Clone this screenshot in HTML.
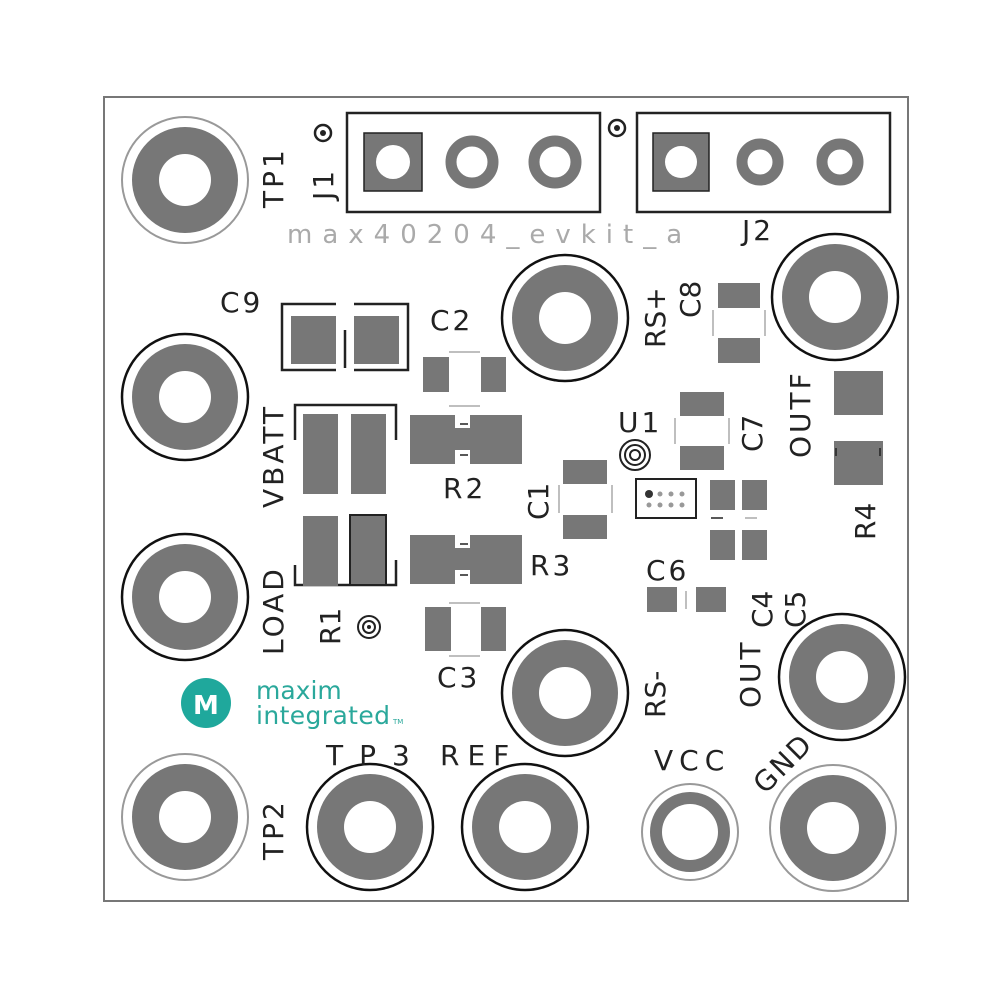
<!DOCTYPE html>
<html><head><meta charset="utf-8"><style>
html,body{margin:0;padding:0;background:#fff}
svg{display:block}
text{font-family:"DejaVu Sans","Liberation Sans",sans-serif;fill:#222}
</style></head><body>
<svg width="1000" height="1000" viewBox="0 0 1000 1000" xmlns="http://www.w3.org/2000/svg">
<rect width="1000" height="1000" fill="#fff"/>
<rect x="104" y="97" width="804" height="804" fill="none" stroke="#777" stroke-width="2"/>
<g>
<circle cx="185" cy="180" r="53" fill="#777"/><circle cx="185" cy="180" r="26" fill="#fff"/><circle cx="185" cy="180" r="63" fill="none" stroke="#999" stroke-width="2"/>
<circle cx="185" cy="397" r="53" fill="#777"/><circle cx="185" cy="397" r="26" fill="#fff"/><circle cx="185" cy="397" r="63" fill="none" stroke="#111" stroke-width="2.5"/>
<circle cx="185" cy="597" r="53" fill="#777"/><circle cx="185" cy="597" r="26" fill="#fff"/><circle cx="185" cy="597" r="63" fill="none" stroke="#111" stroke-width="2.5"/>
<circle cx="185" cy="817" r="53" fill="#777"/><circle cx="185" cy="817" r="26" fill="#fff"/><circle cx="185" cy="817" r="63" fill="none" stroke="#999" stroke-width="2"/>
<circle cx="370" cy="827" r="53" fill="#777"/><circle cx="370" cy="827" r="26" fill="#fff"/><circle cx="370" cy="827" r="63" fill="none" stroke="#111" stroke-width="2.5"/>
<circle cx="525" cy="827" r="53" fill="#777"/><circle cx="525" cy="827" r="26" fill="#fff"/><circle cx="525" cy="827" r="63" fill="none" stroke="#111" stroke-width="2.5"/>
<circle cx="833" cy="828" r="53" fill="#777"/><circle cx="833" cy="828" r="26" fill="#fff"/><circle cx="833" cy="828" r="63" fill="none" stroke="#999" stroke-width="2"/>
<circle cx="565" cy="318" r="53" fill="#777"/><circle cx="565" cy="318" r="26" fill="#fff"/><circle cx="565" cy="318" r="63" fill="none" stroke="#111" stroke-width="2.5"/>
<circle cx="565" cy="693" r="53" fill="#777"/><circle cx="565" cy="693" r="26" fill="#fff"/><circle cx="565" cy="693" r="63" fill="none" stroke="#111" stroke-width="2.5"/>
<circle cx="835" cy="297" r="53" fill="#777"/><circle cx="835" cy="297" r="26" fill="#fff"/><circle cx="835" cy="297" r="63" fill="none" stroke="#111" stroke-width="2.5"/>
<circle cx="842" cy="677" r="53" fill="#777"/><circle cx="842" cy="677" r="26" fill="#fff"/><circle cx="842" cy="677" r="63" fill="none" stroke="#111" stroke-width="2.5"/>
<circle cx="690" cy="832" r="40" fill="#777"/><circle cx="690" cy="832" r="28" fill="#fff"/><circle cx="690" cy="832" r="48" fill="none" stroke="#999" stroke-width="2"/>
</g>
<g fill="none" stroke="#222" stroke-width="2.5">
<rect x="347" y="113" width="253" height="99"/>
<rect x="637" y="113" width="253" height="99"/>
</g>
<rect x="364" y="133" width="58" height="58" fill="#777" stroke="#222" stroke-width="1.5"/>
<circle cx="393" cy="162" r="17" fill="#fff"/>
<rect x="653" y="133" width="56" height="58" fill="#777" stroke="#222" stroke-width="1.5"/>
<circle cx="681" cy="162" r="16" fill="#fff"/>
<g fill="none" stroke="#777" stroke-width="11">
<circle cx="472" cy="162" r="21"/><circle cx="555" cy="162" r="21"/>
<circle cx="760" cy="162" r="18"/><circle cx="840" cy="162" r="18"/>
</g>
<g fill="none" stroke="#222" stroke-width="2.5"><circle cx="323" cy="133" r="8"/><circle cx="617" cy="128" r="8"/></g>
<circle cx="323" cy="133" r="3" fill="#222"/><circle cx="617" cy="128" r="3" fill="#222"/>
<g fill="none" stroke="#222" stroke-width="2.5">
<path d="M336 304H282V370H336M354 304H408V370H354"/>
<path d="M345 330V368"/>
<path d="M295 440V405H396V440M295 565V585H396V560"/>
</g>
<g fill="#777">
<rect x="291" y="316" width="45" height="48"/><rect x="354" y="316" width="45" height="48"/>
<rect x="303" y="414" width="35" height="80"/><rect x="351" y="414" width="35" height="80"/>
<rect x="303" y="516" width="35" height="70"/>
<rect x="423" y="357" width="26" height="35"/><rect x="481" y="357" width="25" height="35"/>
<rect x="410" y="415" width="45" height="49"/><rect x="470" y="415" width="52" height="49"/><rect x="450" y="428" width="25" height="22"/>
<rect x="410" y="535" width="45" height="49"/><rect x="470" y="535" width="52" height="49"/><rect x="450" y="548" width="25" height="22"/>
<rect x="425" y="607" width="26" height="44"/><rect x="481" y="607" width="25" height="44"/>
<rect x="563" y="460" width="44" height="24"/><rect x="563" y="515" width="44" height="24"/>
<rect x="680" y="392" width="44" height="24"/><rect x="680" y="446" width="44" height="24"/>
<rect x="718" y="283" width="42" height="25"/><rect x="718" y="338" width="42" height="25"/>
<rect x="834" y="371" width="49" height="44"/><rect x="834" y="441" width="49" height="44"/>
<rect x="710" y="480" width="25" height="30"/><rect x="742" y="480" width="25" height="30"/>
<rect x="710" y="530" width="25" height="30"/><rect x="742" y="530" width="25" height="30"/>
<rect x="647" y="587" width="30" height="25"/><rect x="696" y="587" width="30" height="25"/>
</g>
<rect x="350" y="515" width="36" height="70" fill="#777" stroke="#222" stroke-width="2"/>
<g stroke="#222" stroke-width="1.5" fill="none">
<path d="M460 424h8M460 455h8M460 544h8M460 575h8"/>
<path d="M711 518h12M836 448v8M880 448v8"/>
</g>
<g stroke="#aaa" stroke-width="1.5" fill="none">
<path d="M449 352h31M449 406h31M449 603h31M449 656h31"/>
<path d="M559 485v28M612 485v28M675 418v26M729 418v26M713 310v26M765 310v26M686 591v18M745 518h12"/>
</g>
<g fill="none" stroke="#222" stroke-width="2">
<circle cx="635" cy="455" r="15"/><circle cx="635" cy="455" r="10"/><circle cx="635" cy="455" r="5"/>
<rect x="636" y="479" width="60" height="39"/>
</g>
<circle cx="649" cy="494" r="4" fill="#333"/>
<g fill="#999"><circle cx="660" cy="494" r="2.5"/><circle cx="671" cy="494" r="2.5"/><circle cx="682" cy="494" r="2.5"/>
<circle cx="649" cy="505" r="2.5"/><circle cx="660" cy="505" r="2.5"/><circle cx="671" cy="505" r="2.5"/><circle cx="682" cy="505" r="2.5"/></g>
<circle cx="369" cy="627" r="11" fill="none" stroke="#222" stroke-width="2"/><circle cx="369" cy="627" r="6" fill="none" stroke="#222" stroke-width="2"/><circle cx="369" cy="627" r="2" fill="#222"/>
<g font-size="28">
<text x="220" y="312" letter-spacing="3">C9</text>
<text x="430" y="330" letter-spacing="3">C2</text>
<text x="443" y="498" letter-spacing="3">R2</text>
<text x="530" y="575" letter-spacing="3">R3</text>
<text x="437" y="687" letter-spacing="3">C3</text>
<text x="646" y="580" letter-spacing="3">C6</text>
<text x="618" y="432" letter-spacing="3">U1</text>
<text x="326" y="765" letter-spacing="16">TP3</text>
<text x="440" y="765" letter-spacing="8">REF</text>
<text x="654" y="770" letter-spacing="6">VCC</text>
<text x="742" y="240" letter-spacing="3">J2</text>
<text x="287" y="243" style="fill:#aaa" letter-spacing="10" font-size="26">max40204_evkit_a</text>
<text transform="translate(283,208) rotate(-90)" letter-spacing="3">TP1</text>
<text transform="translate(333,200) rotate(-90)" letter-spacing="3">J1</text>
<text transform="translate(283,508) rotate(-90)" letter-spacing="3">VBATT</text>
<text transform="translate(283,655) rotate(-90)" letter-spacing="3">LOAD</text>
<text transform="translate(283,860) rotate(-90)" letter-spacing="3">TP2</text>
<text transform="translate(340,645) rotate(-90)">R1</text>
<text transform="translate(548,520) rotate(-90)">C1</text>
<text transform="translate(665,348) rotate(-90)">RS+</text>
<text transform="translate(700,318) rotate(-90)">C8</text>
<text transform="translate(762,452) rotate(-90)">C7</text>
<text transform="translate(810,458) rotate(-90)" letter-spacing="3">OUTF</text>
<text transform="translate(875,540) rotate(-90)">R4</text>
<text transform="translate(772,628) rotate(-90)">C4</text>
<text transform="translate(805,628) rotate(-90)">C5</text>
<text transform="translate(665,718) rotate(-90)">RS-</text>
<text transform="translate(760,708) rotate(-90)" letter-spacing="3">OUT</text>
<text transform="translate(765,795) rotate(-45)" letter-spacing="2">GND</text>
</g>
<circle cx="206" cy="703" r="25" fill="#1fa89c"/>
<text x="193" y="714" font-size="26" font-weight="bold" style="fill:#fff">M</text>
<g font-size="25">
<text x="256" y="699" style="fill:#2aa89b">maxim</text>
<text x="256" y="724" style="fill:#2aa89b" textLength="134">integrated</text>
<text x="393" y="724" font-size="7" style="fill:#2aa89b">TM</text>
</g>
</svg>
</body></html>
